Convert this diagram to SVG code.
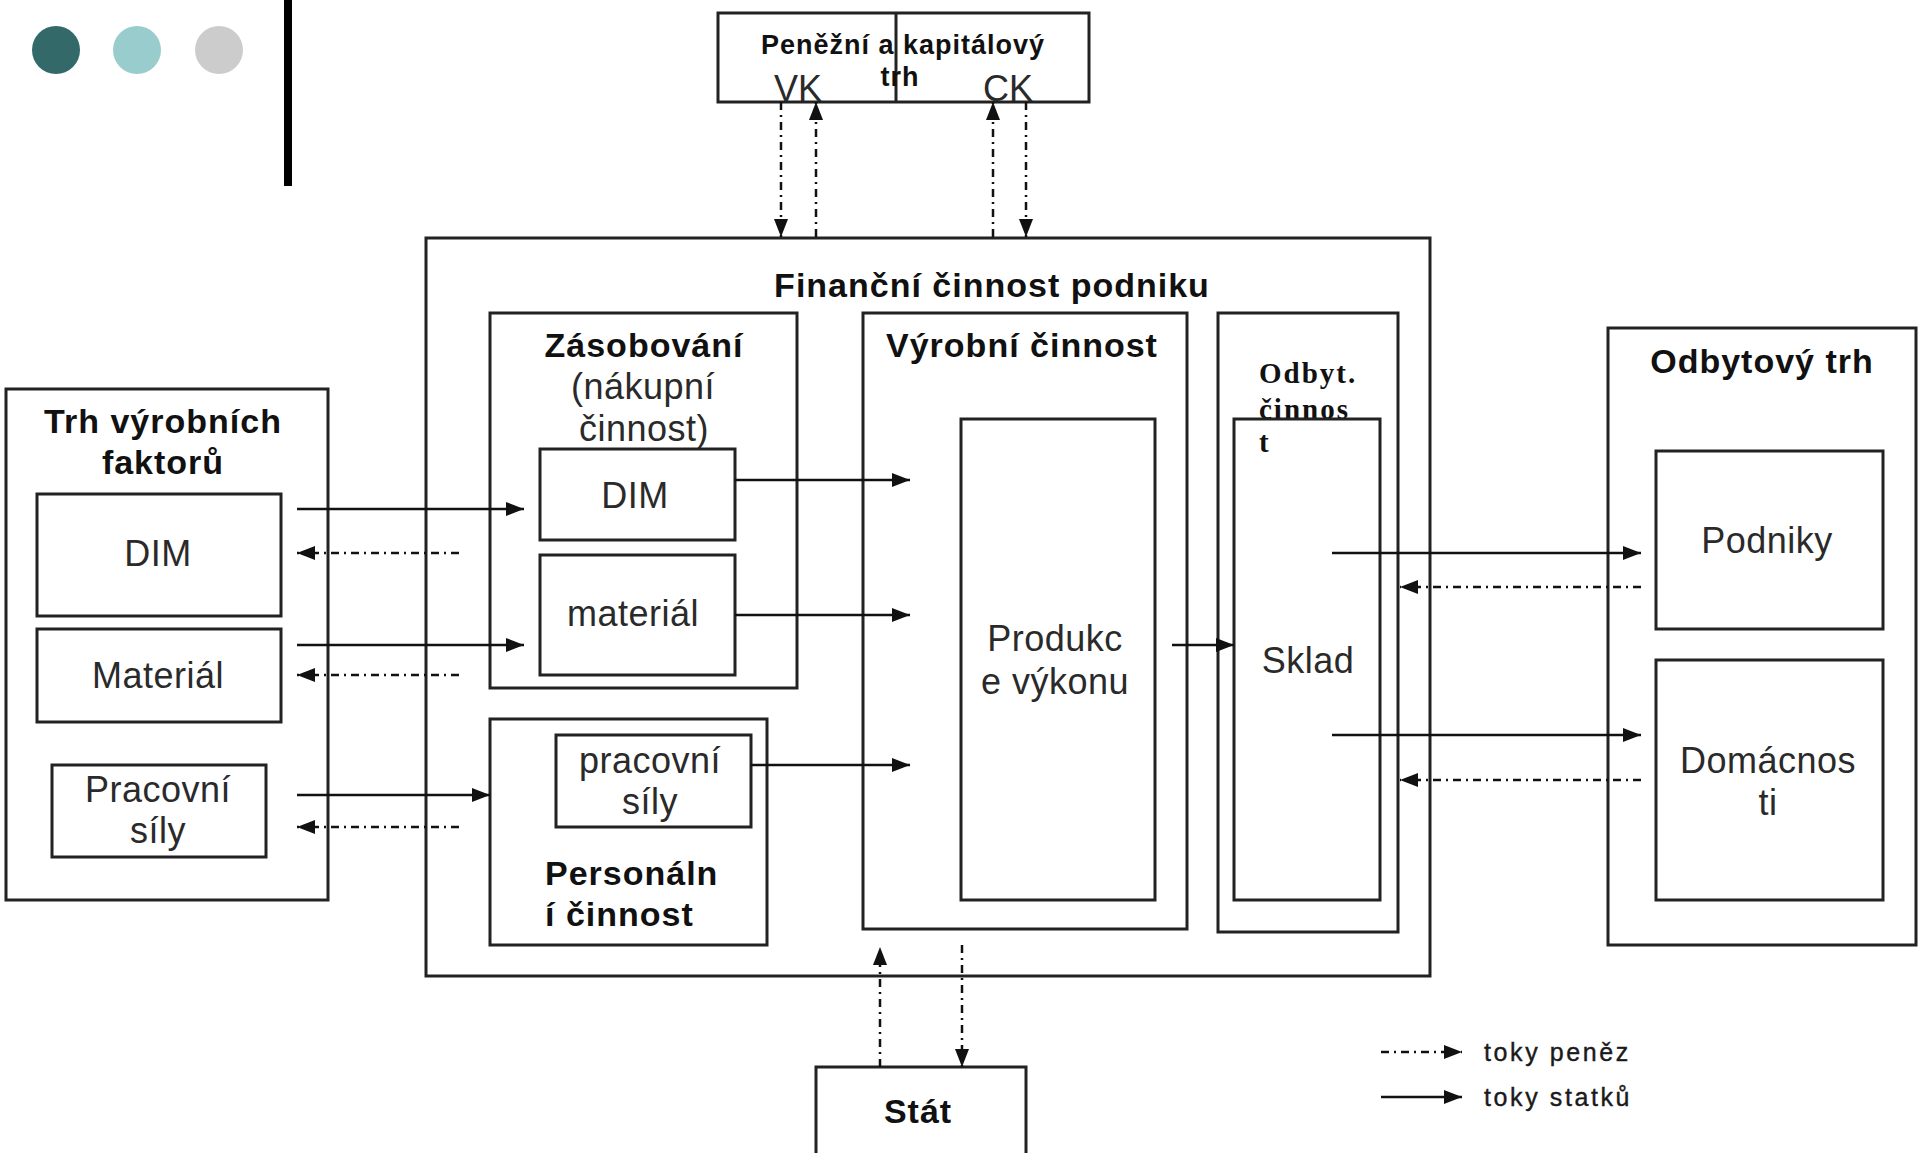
<svg xmlns="http://www.w3.org/2000/svg" width="1920" height="1153" viewBox="0 0 1920 1153">
<defs>
<style>
.box{fill:none;stroke:#222;stroke-width:3}
.t{font-family:"Liberation Sans",Arial,sans-serif;font-size:36px;fill:#2a2a2a;text-anchor:middle;letter-spacing:0.5px}
.b{font-family:"Liberation Sans",Arial,sans-serif;font-size:34px;font-weight:bold;fill:#111;text-anchor:middle;letter-spacing:1px}
.s{font-family:"Liberation Serif","Times New Roman",serif;font-size:29px;font-weight:bold;fill:#111;letter-spacing:2px}
.lg{font-family:"Liberation Sans",Arial,sans-serif;font-size:25px;fill:#1a1a1a;letter-spacing:2.6px;stroke:#1a1a1a;stroke-width:0.4}
.sol{fill:none;stroke:#111;stroke-width:2.5;marker-end:url(#ah)}
.dsh{fill:none;stroke:#111;stroke-width:2.5;stroke-dasharray:8 5 2 5;marker-end:url(#ah)}
</style>
<marker id="ah" markerUnits="userSpaceOnUse" markerWidth="19" markerHeight="16" refX="18" refY="8" orient="auto">
<path d="M0,1 L18,8 L0,15 z" fill="#111"/>
</marker>
</defs>
<rect width="1920" height="1153" fill="#fff"/>
<g id="decor">
<circle cx="56" cy="50" r="24" fill="#336969"/>
<circle cx="137" cy="50" r="24" fill="#99CCCC"/>
<circle cx="219" cy="50" r="24" fill="#CCCCCC"/>
<rect x="284" y="0" width="8" height="186" fill="#000"/>
</g>
<g id="penezni-trh">
<rect class="box" x="718" y="13" width="371" height="89"/>
<line x1="896" y1="13" x2="896" y2="102" stroke="#222" stroke-width="3"/>
<text class="b" x="903" y="54" style="font-size:27px">Peněžní a kapitálový</text>
<text class="b" x="900" y="86" style="font-size:27px">trh</text>
<text class="t" x="798" y="101" style="letter-spacing:0">VK</text>
<text class="t" x="1008" y="101" style="letter-spacing:0">CK</text>
</g>
<g id="financni-cinnost">
<rect class="box" x="426" y="238" width="1004" height="738"/>
<text class="b" x="992" y="297">Finanční činnost podniku</text>
</g>
<g id="trh-vyrobnich-faktoru">
<rect class="box" x="6" y="389" width="322" height="511"/>
<text class="b" x="163" y="433">Trh výrobních</text>
<text class="b" x="163" y="474">faktorů</text>
</g>
<g id="trh-dim">
<rect class="box" x="37" y="494" width="244" height="122"/>
<text class="t" x="158" y="566">DIM</text>
</g>
<g id="trh-material">
<rect class="box" x="37" y="629" width="244" height="93"/>
<text class="t" x="158" y="688">Materiál</text>
</g>
<g id="trh-pracovni-sily">
<rect class="box" x="52" y="765" width="214" height="92"/>
<text class="t" x="158" y="802">Pracovní</text>
<text class="t" x="158" y="843">síly</text>
</g>
<g id="zasobovani">
<rect class="box" x="490" y="313" width="307" height="375"/>
<text class="b" x="644" y="357">Zásobování</text>
<text class="t" x="643" y="399">(nákupní</text>
<text class="t" x="644" y="441">činnost)</text>
</g>
<g id="zas-dim">
<rect class="box" x="540" y="449" width="195" height="91"/>
<text class="t" x="635" y="508">DIM</text>
</g>
<g id="zas-material">
<rect class="box" x="540" y="555" width="195" height="120"/>
<text class="t" x="633" y="626">materiál</text>
</g>
<g id="personalni-cinnost">
<rect class="box" x="490" y="719" width="277" height="226"/>
<text class="b" x="545" y="885" style="text-anchor:start">Personáln</text>
<text class="b" x="545" y="926" style="text-anchor:start">í činnost</text>
</g>
<g id="pers-pracovni-sily">
<rect class="box" x="556" y="735" width="195" height="92"/>
<text class="t" x="650" y="773">pracovní</text>
<text class="t" x="650" y="814">síly</text>
</g>
<g id="vyrobni-cinnost">
<rect class="box" x="863" y="313" width="324" height="616"/>
<text class="b" x="1022" y="357">Výrobní činnost</text>
</g>
<g id="produkce">
<rect class="box" x="961" y="419" width="194" height="481"/>
<text class="t" x="1055" y="651">Produkc</text>
<text class="t" x="1055" y="694">e výkonu</text>
</g>
<g id="odbytova-cinnost">
<rect class="box" x="1218" y="313" width="180" height="619"/>
<text class="s" x="1259" y="383">Odbyt.</text>
<text class="s" x="1259" y="419">činnos</text>
<text class="s" x="1259" y="452">t</text>
</g>
<g id="sklad">
<rect class="box" x="1234" y="419" width="146" height="481"/>
<text class="t" x="1308" y="673">Sklad</text>
</g>
<g id="odbytovy-trh">
<rect class="box" x="1608" y="328" width="308" height="617"/>
<text class="b" x="1762" y="373">Odbytový trh</text>
</g>
<g id="podniky">
<rect class="box" x="1656" y="451" width="227" height="178"/>
<text class="t" x="1767" y="553">Podniky</text>
</g>
<g id="domacnosti">
<rect class="box" x="1656" y="660" width="227" height="240"/>
<text class="t" x="1768" y="773">Domácnos</text>
<text class="t" x="1768" y="815">ti</text>
</g>
<g id="stat">
<rect class="box" x="816" y="1067" width="210" height="100"/>
<text class="b" x="918" y="1123">Stát</text>
</g>
<g id="connectors">
<path class="dsh" d="M781,102 V237"/>
<path class="dsh" d="M816,237 V102"/>
<path class="dsh" d="M993,237 V102"/>
<path class="dsh" d="M1026,102 V237"/>
<path class="sol" d="M297,509 H524"/>
<path class="dsh" d="M459,553 H297"/>
<path class="sol" d="M297,645 H524"/>
<path class="dsh" d="M459,675 H297"/>
<path class="sol" d="M297,795 H490"/>
<path class="dsh" d="M459,827 H297"/>
<path class="sol" d="M735,480 H910"/>
<path class="sol" d="M735,615 H910"/>
<path class="sol" d="M751,765 H910"/>
<path class="sol" d="M1172,645 H1234"/>
<path class="sol" d="M1332,553 H1641"/>
<path class="dsh" d="M1641,587 H1400"/>
<path class="sol" d="M1332,735 H1641"/>
<path class="dsh" d="M1641,780 H1400"/>
<path class="dsh" d="M880,1067 V947"/>
<path class="dsh" d="M962,945 V1067"/>
</g>
<g id="legend">
<path class="dsh" d="M1381,1052 H1462"/>
<path class="sol" d="M1381,1097 H1462"/>
<text class="lg" x="1484" y="1061">toky peněz</text>
<text class="lg" x="1484" y="1106">toky statků</text>
</g>
</svg>
